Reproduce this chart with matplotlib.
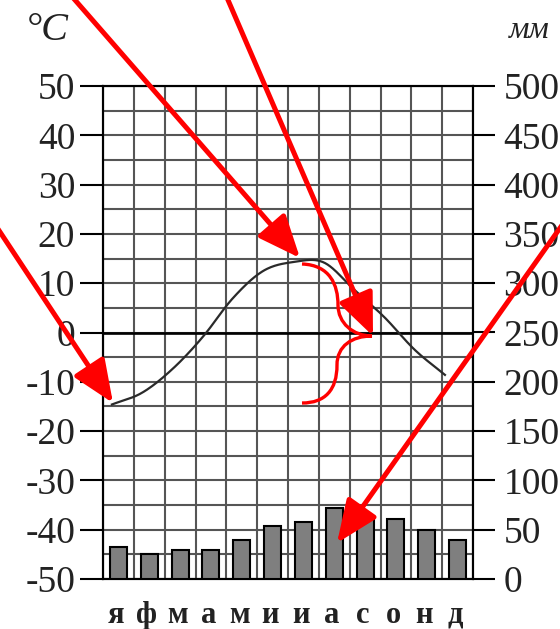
import numpy as np
import matplotlib
matplotlib.use("Agg")
import matplotlib.pyplot as plt
import matplotlib.transforms as mtransforms
from matplotlib.path import Path
from matplotlib.patches import PathPatch

# climate data
months = ['я', 'ф', 'м', 'а', 'м', 'и', 'и', 'а', 'с', 'о', 'н', 'д']
temps = [-14.6, -12.2, -7.4, -0.9, 7.0, 12.5, 14.3, 14.2, 8.7, 3.1, -3.5, -8.6]
precip = [32, 25, 29, 29, 40, 54, 58, 72, 61, 61, 50, 40]
temp_ticks = list(range(-50, 51, 10))
precip_ticks = list(range(0, 501, 50))

W, H = 560, 629
FONT = 'Liberation Serif'
TXT = '#222222'
plt.rcParams['axes.unicode_minus'] = False


def smooth(x, y, n=24):
    # catmull-rom spline through the monthly points
    pts = np.column_stack([x, y])
    pad = np.vstack([2 * pts[0] - pts[1], pts, 2 * pts[-1] - pts[-2]])
    out = []
    t = np.linspace(0, 1, n, endpoint=False)[:, None]
    for i in range(len(pts) - 1):
        p0, p1, p2, p3 = pad[i:i + 4]
        seg = 0.5 * (2 * p1 + (-p0 + p2) * t + (2 * p0 - 5 * p1 + 4 * p2 - p3) * t ** 2
                     + (-p0 + 3 * p1 - 3 * p2 + p3) * t ** 3)
        out.append(seg)
    out.append(pts[-1:])
    s = np.vstack(out)
    return s[:, 0], s[:, 1]


fig = plt.figure(figsize=(W / 100, H / 100), dpi=100)
ax = fig.add_axes([103 / W, 50 / H, 370 / W, 493 / H])

ax.set_xlim(0, 12)
ax.set_ylim(-50, 50)
ax.set_xticks(range(13))
ax.tick_params(axis='x', length=0, labelbottom=False)
ax.set_yticks(temp_ticks)
ax.set_yticks(range(-45, 50, 10), minor=True)
ax.tick_params(axis='y', which='major', length=16.5, width=1.5, pad=3.5,
               labelsize=27, labelcolor=TXT)
ax.tick_params(axis='y', which='minor', length=0)
for lab in ax.get_yticklabels():
    lab.set_fontfamily(FONT)
ax.grid(which='both', color='#555555', lw=1.5)
ax.set_axisbelow(True)
ax.axhline(0, color='black', lw=1.9)
for s in ax.spines.values():
    s.set_linewidth(1.5)
    s.set_color('black')

# temperature curve
tx = np.linspace(0.29, 11.09, 12)
sx, sy = smooth(tx, temps)
ax.plot(sx, sy, color='#2a2a2a', lw=1.6, zorder=4)

# precipitation bars on the right axis
ax2 = ax.twinx()
ax2.set_ylim(0, 500)
ax2.set_yticks(precip_ticks)
ax2.tick_params(axis='y', length=16, width=1.5, pad=6, labelsize=27, labelcolor=TXT)
for lab in ax2.get_yticklabels():
    lab.set_fontfamily(FONT)
for s in ax2.spines.values():
    s.set_linewidth(1.5)
ax2.bar(np.arange(12) + 0.5, precip, width=0.55, color='#7f7f7f',
        edgecolor='black', linewidth=1.5, zorder=3)

# month letters
for i, m in enumerate(months):
    ax.text(i + 0.42, -0.089, m, transform=ax.get_xaxis_transform(), ha='center',
            va='baseline', fontsize=22, fontweight='bold', family=FONT, color=TXT)

# units
fig.text(47 / W, 1 - 30 / H, '°C', ha='center', va='center', fontsize=29,
         style='italic', family=FONT, color=TXT)
fig.text(529 / W, 1 - 31 / H, 'мм', ha='center', va='center', fontsize=23,
         style='italic', family=FONT, color=TXT)

# red annotations, in image pixel coordinates
img = mtransforms.Affine2D().scale(1 / W, -1 / H).translate(0, 1) + fig.transFigure
arrows = [((0, 232), (113, 403)),
          ((75, 0), (300, 258)),
          ((228, 0), (373, 336)),
          ((560, 228), (337, 543))]
for tail, tip in arrows:
    d = np.subtract(tip, tail)
    start = np.array(tail) - d / np.hypot(*d) * 30
    ax2.annotate('', xy=tip, xycoords=img, xytext=start, textcoords=img,
                 annotation_clip=False,
                 arrowprops=dict(arrowstyle='-|>,head_length=1.3,head_width=0.55',
                                 mutation_scale=20, color='red', lw=3.6,
                                 shrinkA=0, shrinkB=0))

brace = Path([(302, 264), (330, 265), (338, 285), (338, 305),
              (338, 323), (353, 336), (372, 336),
              (352, 336), (337, 346), (337, 365),
              (337, 390), (325, 403), (302, 403)],
             [Path.MOVETO] + [Path.CURVE4] * 12)
ax2.add_patch(PathPatch(brace, transform=img, fill=False, edgecolor='red',
                        lw=2.4, clip_on=False, zorder=6))

fig.savefig('out.png', dpi=100)
